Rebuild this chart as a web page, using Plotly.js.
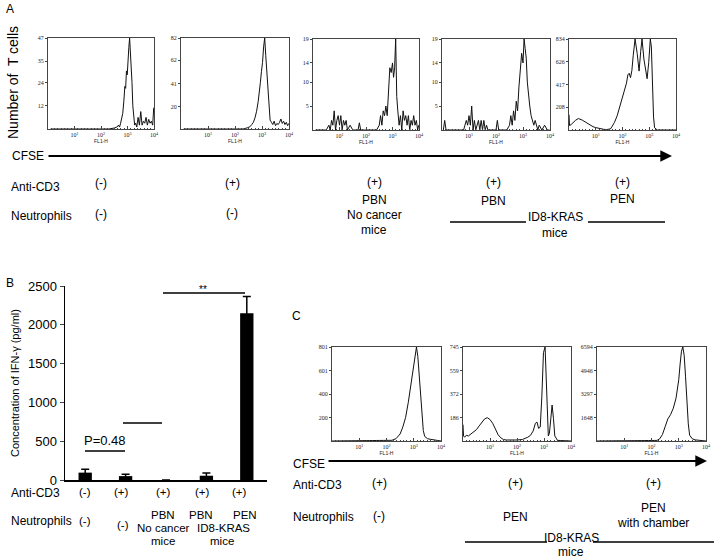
<!DOCTYPE html>
<html>
<head>
<meta charset="utf-8">
<script src="https://cdn.plot.ly/plotly-3.0.1.min.js"></script>
<style>
  html, body { margin: 0; padding: 0; background: #fff; }
  #chart { width: 716px; height: 560px; }
</style>
</head>
<body>
<div id="chart"></div>
<script>
// ---- Panel A histograms (x in log10 FL1-H units, y = cell counts) ----
const histA1x = [0.1,0.4,0.8,1.2,1.6,2.0,2.3,2.5,2.6,2.66,2.7,2.74,2.78,2.82,2.86,2.9,2.93,2.96,2.99,3.02,3.05,3.08,3.11,3.14,3.17,3.2,3.23,3.27,3.31,3.35,3.4,3.45,3.5,3.55,3.6,3.65,3.7,3.75,3.8,3.85,3.9,3.95,3.99];
const histA1y = [0,0,0,0,0,0,0,0.5,1,2,1,3,5,8,14,22,21,30,28,38,42,47,40,36,24,12,5,2,3,1,6,2,9,2,4,3,6,2,5,3,4,2,11];

const histA2x = [0.1,0.5,1,1.5,2,2.3,2.45,2.55,2.62,2.68,2.74,2.8,2.86,2.9,2.94,2.98,3.02,3.06,3.1,3.14,3.18,3.22,3.26,3.3,3.35,3.4,3.45,3.5,3.55,3.6,3.65,3.7,3.75,3.8,3.85,3.9,3.95,3.99];
const histA2y = [0,0,0,0,0,0,1,2,4,6,10,16,25,32,42,52,60,74,82,66,50,32,16,8,6,4,7,3,5,4,6,9,5,7,4,6,3,5];

const histA3x = [0.1,0.5,0.6,0.65,0.7,0.75,0.8,0.85,0.9,0.95,1.0,1.05,1.1,1.15,1.2,1.25,1.3,1.4,1.5,1.7,1.75,1.8,2.0,2.4,2.5,2.55,2.6,2.65,2.7,2.75,2.8,2.85,2.9,2.95,3.0,3.04,3.08,3.12,3.16,3.2,3.25,3.3,3.35,3.4,3.45,3.5,3.55,3.6,3.65,3.7,3.75,3.8,3.85,3.9,3.95,3.99];
const histA3y = [0,0,1,0,2,1,4,0,2,3,1,3,0,2,1,2,0,1,0,0,1.5,0,0,0,1,3,1,4,3,5,3,9,13,12,14,11,13,19,7,4,1,3,0,4,2,3,1,3,0,2,1,3,1,2,0,1];

const histA4x = [0.05,0.1,0.15,0.5,0.8,0.85,0.9,0.95,1.0,1.05,1.1,1.15,1.2,1.25,1.3,1.35,1.4,1.45,1.5,1.55,1.6,1.65,1.7,2.0,2.05,2.1,2.4,2.5,2.55,2.6,2.65,2.7,2.75,2.8,2.85,2.9,2.95,3.0,3.04,3.08,3.12,3.16,3.2,3.25,3.3,3.35,3.4,3.45,3.5,3.55,3.6,3.7,3.8,3.9,3.99];
const histA4y = [0,2,0,0,0,1,2,1,3,1,5,0,2,0,1,2,0,2,0,2,0,1,0,0,2,0,0,1,3,1,4,2,6,4,9,12,16,14,19,17,15,10,7,5,3,2,1,2,1,0,1,0,1,0,0];

const histA5x = [0,0.02,0.08,0.15,0.25,0.35,0.42,0.5,0.6,0.7,0.8,0.9,1.0,1.1,1.2,1.3,1.4,1.5,1.55,1.6,1.7,1.8,1.9,2.0,2.1,2.15,2.2,2.25,2.3,2.35,2.4,2.47,2.55,2.62,2.68,2.73,2.8,2.86,2.92,2.98,3.04,3.08,3.12,3.16,3.2,3.25,3.3,3.5,4.0];
const histA5y = [140,40,50,70,90,105,100,90,75,58,42,30,22,15,10,6,4,5,10,28,70,130,210,300,390,430,505,520,480,545,680,834,700,540,720,834,650,540,470,620,834,760,420,120,20,5,0,0,0];

// ---- Panel C histograms ----
const histC1x = [0,0.5,1,1.5,2,2.2,2.35,2.5,2.6,2.7,2.8,2.9,3.0,3.05,3.1,3.15,3.2,3.25,3.3,3.35,3.4,3.5,3.6,3.7,3.8,3.9,4.0];
const histC1y = [0,0,0,0,2,6,20,60,120,200,330,480,650,740,801,720,560,380,200,90,40,20,15,10,6,3,0];

const histC2x = [0,0.02,0.06,0.12,0.2,0.3,0.4,0.5,0.6,0.7,0.8,0.9,1.0,1.1,1.2,1.3,1.4,1.5,1.6,1.8,2.0,2.2,2.3,2.4,2.5,2.6,2.68,2.74,2.8,2.86,2.92,2.98,3.04,3.1,3.16,3.2,3.25,3.3,3.35,3.4,3.5,3.7,4.0];
const histC2y = [130,40,30,45,40,55,70,90,120,150,175,185,170,140,90,50,25,12,8,6,8,12,18,30,45,80,140,150,100,110,350,700,745,300,40,60,200,285,180,40,5,2,0];

const histC3x = [0,0.5,0.9,1.0,1.2,1.5,2.0,2.2,2.3,2.4,2.5,2.6,2.7,2.8,2.9,3.0,3.05,3.1,3.15,3.2,3.25,3.3,3.35,3.4,3.5,3.6,3.8,4.0];
const histC3y = [0,0,0,30,0,0,10,40,150,450,1000,1550,1850,2300,3000,4300,5400,6300,6594,6000,4500,2800,1200,400,150,80,40,0];

// y tick labels of each histogram (top value = axis max)
const ticksA1 = [12,24,35,47];
const ticksA2 = [20,41,62,82];
const ticksA3 = [5,10,14,19];
const ticksA4 = [5,10,14,19];
const ticksA5 = [208,417,626,834];
const ticksC1 = [200,400,601,801];
const ticksC2 = [186,372,559,745];
const ticksC3 = [1648,3297,4946,6594];
const decadeVals = [1,2,3,4];
const decadeText = ['10<sup>1</sup>','10<sup>2</sup>','10<sup>3</sup>','10<sup>4</sup>'];

// ---- Panel B: IFN-gamma ----
const groups = ['none', 'antiCD3', 'PBN no cancer', 'PBN ID8-KRAS', 'PEN ID8-KRAS'];
const ifnMean = [95, 50, 0, 55, 2150];
const ifnErr = [45, 25, 0, 35, 215];
const ifnTicks = [0, 500, 1000, 1500, 2000, 2500];

const W = 716, H = 560;
const px = v => v / W;
const py = v => 1 - v / H;
const SANS = 'Liberation Sans, Arial, sans-serif';

// histogram panels: [x data, y data, ticks, left, right, top, bottom]
const hists = [
  [histA1x, histA1y, ticksA1, 48, 154, 38, 129],
  [histA2x, histA2y, ticksA2, 181, 289, 38, 129],
  [histA3x, histA3y, ticksA3, 313, 419, 39, 130],
  [histA4x, histA4y, ticksA4, 442, 550, 39, 130],
  [histA5x, histA5y, ticksA5, 569, 676, 39, 130],
  [histC1x, histC1y, ticksC1, 332, 441, 347, 441],
  [histC2x, histC2y, ticksC2, 463, 571, 347, 441],
  [histC3x, histC3y, ticksC3, 597, 706, 347, 441]
];

const traces = [];
const layout = {
  width: W, height: H,
  margin: {l: 0, r: 0, t: 0, b: 0},
  paper_bgcolor: '#fff', plot_bgcolor: 'rgba(0,0,0,0)',
  showlegend: false,
  font: {family: SANS, color: '#000'},
  annotations: [],
  shapes: []
};

hists.forEach((h, i) => {
  const n = i + 1;
  const xs = n === 1 ? '' : String(n);
  traces.push({
    x: h[0], y: h[1], type: 'scatter', mode: 'lines',
    line: {color: '#111', width: 1},
    xaxis: 'x' + xs, yaxis: 'y' + xs,
    hoverinfo: 'skip'
  });
  layout['xaxis' + xs] = {
    domain: [px(h[3]), px(h[4])], anchor: 'y' + xs,
    range: [0, 4], showgrid: false, zeroline: false,
    showline: true, mirror: true, linecolor: '#444', linewidth: 1,
    tickvals: decadeVals, ticktext: decadeText,
    ticks: 'inside', ticklen: 3, tickcolor: '#444',
    tickfont: {family: 'Liberation Serif, serif', size: 6, color: '#222'},
    minor: {dtick: 0.125, ticks: 'inside', ticklen: 1.5, tickcolor: '#444'},
    title: {text: 'FL1-H', font: {family: SANS, size: 5, color: '#222'}, standoff: 0},
    fixedrange: true
  };
  layout['yaxis' + xs] = {
    domain: [py(h[6]), py(h[5])], anchor: 'x' + xs,
    range: [0, h[2][h[2].length - 1]], showgrid: false, zeroline: false,
    showline: true, mirror: true, linecolor: '#444', linewidth: 1,
    tickvals: h[2], ticks: 'outside', ticklen: 2, tickcolor: '#444',
    tickfont: {family: 'Liberation Serif, serif', size: 6, color: '#222'},
    fixedrange: true
  };
});

// bar chart on axis 9
traces.push({
  x: groups, y: ifnMean, type: 'bar', width: 0.33,
  marker: {color: '#000'},
  error_y: {type: 'data', array: ifnErr, visible: true, color: '#000', thickness: 1.5, width: 4},
  xaxis: 'x9', yaxis: 'y9', hoverinfo: 'skip'
});
layout.xaxis9 = {
  domain: [px(65), px(267)], anchor: 'y9',
  showline: true, linecolor: '#000', linewidth: 1.5,
  showticklabels: false, ticks: '', showgrid: false, zeroline: false, fixedrange: true
};
layout.yaxis9 = {
  domain: [py(480), py(286)], anchor: 'x9', range: [0, 2500],
  tickvals: ifnTicks, showline: true, linecolor: '#000', linewidth: 1.5,
  ticks: 'outside', ticklen: 4, showgrid: false, zeroline: false,
  tickfont: {family: SANS, size: 13}, fixedrange: true
};

// text helpers
function txt(t, x, y, opts) {
  layout.annotations.push(Object.assign({
    text: t, x: px(x), y: py(y), xref: 'paper', yref: 'paper',
    showarrow: false, xanchor: 'center', yanchor: 'middle',
    font: {family: SANS, size: 12, color: '#000'}
  }, opts || {}));
}
function small(t, x, y) {
  txt(t, x, y, {font: {family: SANS, size: 11.5, color: '#000'}});
}
function hline(x0, x1, y, w) {
  layout.shapes.push({type: 'line', xref: 'paper', yref: 'paper',
    x0: px(x0), x1: px(x1), y0: py(y), y1: py(y), line: {color: '#000', width: w || 1.3}});
}
function arrow(x0, x1, y) {
  layout.annotations.push({x: px(x1), y: py(y), xref: 'paper', yref: 'paper',
    ax: -(x1 - x0), ay: 0, axref: 'pixel', ayref: 'pixel', text: '',
    showarrow: true, arrowhead: 2, arrowsize: 1.3, arrowwidth: 1.8, arrowcolor: '#000'});
}
const left = {xanchor: 'left'};

// ---- Panel A labels ----
txt('A', 4, 9, {xanchor: 'left'});
txt('Number of  T cells', 13, 83, {textangle: -90, font: {family: SANS, size: 14, color: '#000'}});
txt('CFSE', 10, 156, left);
arrow(47, 672, 156);
txt('Anti-CD3', 9, 187, left);
txt('Neutrophils', 9, 216, left);
txt('(-)', 101, 183); txt('(-)', 101, 214);
txt('(+)', 232, 183); txt('(-)', 232, 213);
txt('(+)', 374, 182); txt('PBN', 374, 200); txt('No cancer', 374, 215); txt('mice', 374, 230);
txt('(+)', 493, 182); txt('PBN', 493, 201);
txt('(+)', 622, 182); txt('PEN', 622, 199);
txt('ID8-KRAS', 555, 217); txt('mice', 555, 233);
hline(450, 526, 222); hline(588, 665, 222);

// ---- Panel B labels ----
txt('B', 4, 283, left);
txt('Concentration of IFN-\u03b3 (pg/ml)', 15, 383, {textangle: -90, font: {family: SANS, size: 11, color: '#000'}});
txt('P=0.48', 105, 440, {font: {family: SANS, size: 13, color: '#000'}});
hline(85, 125, 451);
hline(123, 162, 423);
hline(163, 245, 293);
txt('**', 203, 289, {font: {family: SANS, size: 10, color: '#000'}});
txt('Anti-CD3', 9, 493, left);
txt('Neutrophils', 9, 521, left);
small('(-)', 85, 492); small('(+)', 122, 492); small('(+)', 163, 492); small('(+)', 202, 492); small('(+)', 240, 492);
small('(-)', 85, 521); small('(-)', 123, 525);
small('PBN', 163, 515); small('No cancer', 163, 528); small('mice', 163, 541);
small('PBN', 201, 515); small('PEN', 245, 515); small('ID8-KRAS', 223, 528); small('mice', 222, 541);

// ---- Panel C labels ----
txt('C', 290, 316, left);
txt('CFSE', 291, 464, left);
arrow(327, 707, 461);
txt('Anti-CD3', 291, 485, left);
txt('Neutrophils', 291, 517, left);
txt('(+)', 379, 483); txt('(+)', 515, 483); txt('(+)', 653, 483);
txt('(-)', 379, 516);
txt('PEN', 515, 517);
txt('PEN', 653, 508); txt('with chamber', 653, 523);
txt('ID8-KRAS', 571, 538); txt('mice', 571, 552);
hline(465, 547, 542); hline(593, 714, 542);

Plotly.newPlot('chart', traces, layout, {displayModeBar: false, staticPlot: true});
</script>
</body>
</html>
